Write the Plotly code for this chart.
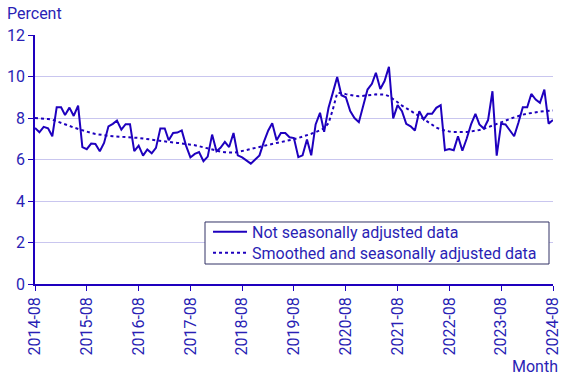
import plotly.graph_objects as go
import pandas as pd

months = pd.date_range("2014-08-01", "2024-08-01", freq="MS")

not_adjusted = [
    7.52, 7.31, 7.57, 7.50, 7.12, 8.52, 8.52, 8.14, 8.50, 8.10, 8.60, 6.60,
    6.50, 6.77, 6.75, 6.40, 6.80, 7.60, 7.72, 7.88, 7.44, 7.70, 7.70, 6.40,
    6.67, 6.19, 6.48, 6.30, 6.56, 7.50, 7.50, 6.93, 7.28, 7.30, 7.40, 6.67,
    6.10, 6.27, 6.36, 5.92, 6.14, 7.20, 6.40, 6.56, 6.85, 6.60, 7.28, 6.20,
    6.10, 5.94, 5.80, 6.00, 6.20, 6.85, 7.40, 7.75, 6.93, 7.28, 7.28, 7.07,
    7.03, 6.11, 6.20, 6.96, 6.20, 7.69, 8.25, 7.33, 8.49, 9.21, 9.98, 9.10,
    9.00, 8.33, 8.00, 7.80, 8.57, 9.37, 9.65, 10.18, 9.40, 9.78, 10.47, 7.98,
    8.62, 8.33, 7.72, 7.60, 7.40, 8.33, 7.93, 8.20, 8.20, 8.49, 8.62, 6.45,
    6.51, 6.45, 7.12, 6.42, 7.00, 7.69, 8.20, 7.69, 7.49, 7.90, 9.29, 6.19,
    7.72, 7.69, 7.41, 7.12, 7.77, 8.52, 8.52, 9.16, 8.89, 8.73, 9.37, 7.73,
    7.90,
]

smoothed = [
    8.00, 7.99, 7.97, 7.95, 7.92, 7.85, 7.78, 7.70, 7.62, 7.54, 7.47, 7.40,
    7.34, 7.28, 7.23, 7.19, 7.16, 7.14, 7.12, 7.11, 7.10, 7.08, 7.06, 7.05,
    7.04, 7.01, 6.98, 6.95, 6.91, 6.88, 6.86, 6.84, 6.82, 6.80, 6.78, 6.76,
    6.73, 6.69, 6.64, 6.58, 6.52, 6.46, 6.42, 6.38, 6.35, 6.33, 6.33, 6.36,
    6.41, 6.47, 6.53, 6.59, 6.64, 6.68, 6.72, 6.76, 6.80, 6.84, 6.88, 6.93,
    6.98, 7.04, 7.10, 7.16, 7.24, 7.32, 7.40, 7.50, 7.75, 8.40, 9.20, 9.20,
    9.15, 9.10, 9.07, 9.05, 9.06, 9.08, 9.11, 9.14, 9.15, 9.13, 9.05, 8.92,
    8.76, 8.60, 8.48, 8.36, 8.22, 8.09, 7.95, 7.81, 7.67, 7.54, 7.45, 7.39,
    7.35, 7.33, 7.32, 7.32, 7.33, 7.35, 7.38, 7.42, 7.48, 7.55, 7.62, 7.70,
    7.78, 7.87, 7.96, 8.04, 8.10, 8.16, 8.21, 8.25, 8.28, 8.31, 8.33, 8.35,
    8.36,
]

tick_dates = pd.date_range("2014-08-01", "2024-08-01", freq="12MS")
tick_labels = [d.strftime("%Y-%m") for d in tick_dates]
y_ticks = [0, 2, 4, 6, 8, 10, 12]

blue = "#1e00be"
text_blue = "#2a1fb5"
grid = "#c9c6ef"
fs = 16

fig = go.Figure()
fig.add_trace(go.Scatter(
    x=months, y=not_adjusted, mode="lines", name="Not seasonally adjusted data",
    line=dict(color=blue, width=2), legend="legend",
))
fig.add_trace(go.Scatter(
    x=months, y=smoothed, mode="lines", name="Smoothed and seasonally adjusted data",
    line=dict(color=blue, width=2, dash="dot"), legend="legend2",
))

leg_common = dict(
    xanchor="left", yanchor="middle", bgcolor="rgba(0,0,0,0)", borderwidth=0,
    font=dict(size=fs, color=text_blue), itemwidth=34,
)

fig.update_layout(
    width=567, height=378,
    margin=dict(l=35, r=14, t=35, b=94, autoexpand=False),
    paper_bgcolor="white", plot_bgcolor="white",
    font=dict(family="Roboto, Arial, sans-serif", size=fs, color=text_blue),
    showlegend=True,
    legend=dict(x=0.334, y=0.209, **leg_common),
    legend2=dict(x=0.334, y=0.125, **leg_common),
    shapes=[dict(
        type="rect", xref="paper", yref="paper",
        x0=0.3282, x1=0.9923, y0=0.0803, y1=0.249,
        line=dict(color="#333366", width=1), fillcolor="white", layer="above",
    )],
    xaxis=dict(
        range=[months[0], months[-1]],
        tickvals=list(tick_dates), ticktext=tick_labels,
        tickangle=-90, ticks="outside", ticklen=5, tickcolor=blue,
        showline=True, linecolor=blue, linewidth=1.5,
        showgrid=False, zeroline=False, automargin=False,
        tickfont=dict(size=fs, color=text_blue),
    ),
    yaxis=dict(
        range=[0, 12], tickvals=y_ticks, ticktext=[str(v) for v in y_ticks],
        ticks="outside", ticklen=5, tickcolor=blue,
        showline=True, linecolor=blue, linewidth=1.5,
        showgrid=True, gridcolor=grid, gridwidth=1, zeroline=False,
        automargin=False,
        tickfont=dict(size=fs, color=text_blue),
    ),
    annotations=[
        dict(text="Percent", xref="paper", yref="paper", x=-0.058, y=1.088,
             xanchor="left", yanchor="middle", showarrow=False,
             font=dict(size=fs, color=text_blue)),
        dict(text="Month", xref="paper", yref="paper", x=1.013, y=-0.33,
             xanchor="right", yanchor="middle", showarrow=False,
             font=dict(size=fs, color=text_blue)),
    ],
)

fig.write_html(
    "out.html",
    config={"displayModeBar": False},
    post_script="document.body.style.margin='0';document.body.style.padding='0';",
)
